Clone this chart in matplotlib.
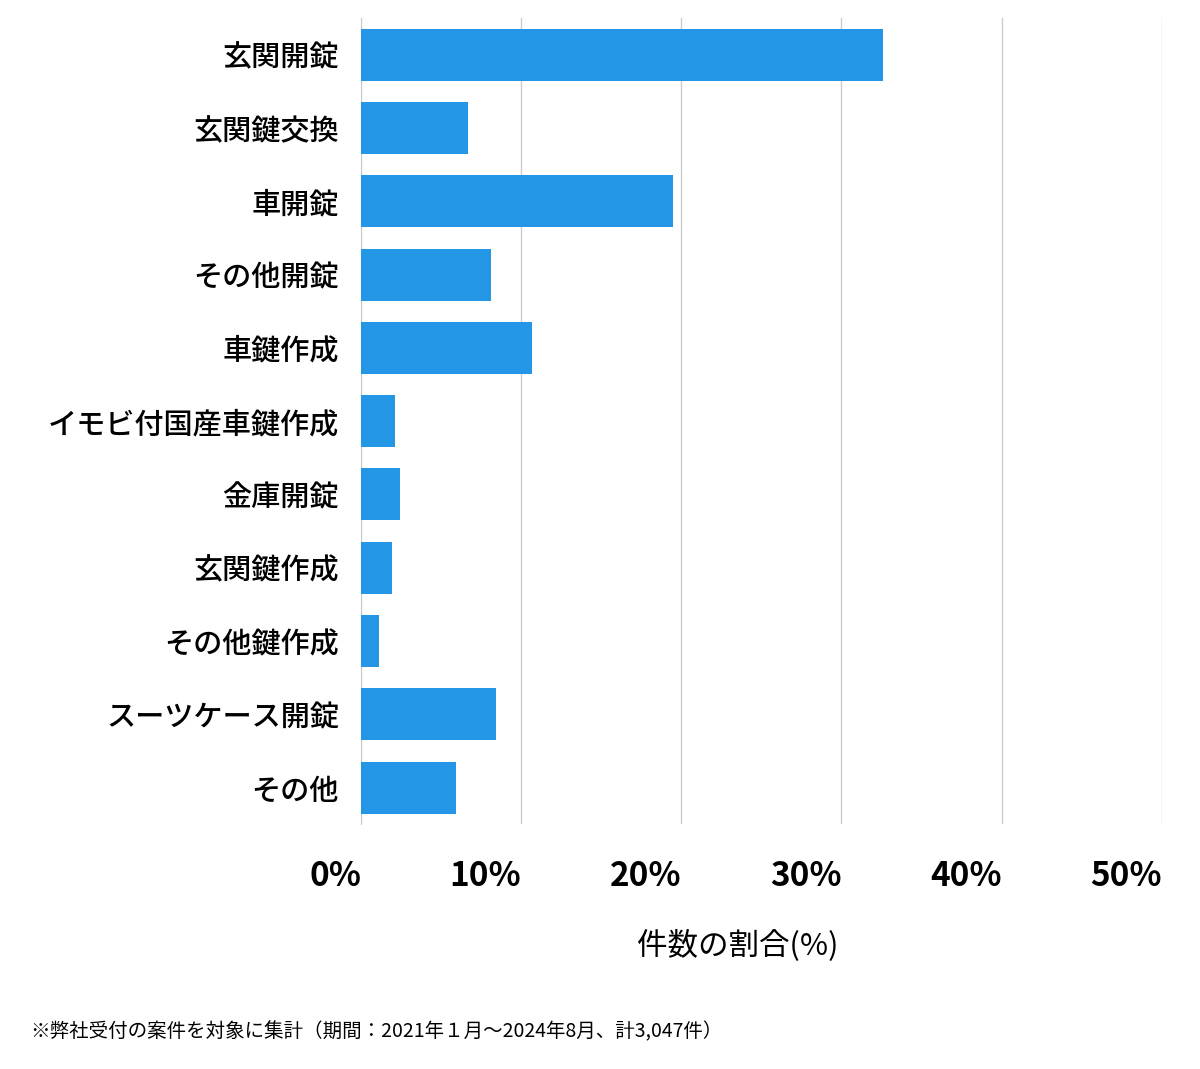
import matplotlib
matplotlib.use("Agg")
import matplotlib.pyplot as plt
from matplotlib.ticker import FuncFormatter

plt.rcParams["font.family"] = "Noto Sans CJK JP"

categories = ["玄関開錠", "玄関鍵交換", "車開錠", "その他開錠", "車鍵作成", "イモビ付国産車鍵作成",
              "金庫開錠", "玄関鍵作成", "その他鍵作成", "スーツケース開錠", "その他"]
values = [32.6, 6.7, 19.5, 8.1, 10.7, 2.1, 2.4, 1.9, 1.1, 8.4, 5.9]
xticks = [0, 10, 20, 30, 40, 50]

fig = plt.figure(figsize=(12, 10.69), dpi=100)
ax = fig.add_axes([0.301, 0.229, 0.667, 0.754])
y = list(range(len(categories)))
ax.barh(y, values, height=0.71, color="#2496E6", zorder=3)
ax.set_ylim(len(categories) - 0.5, -0.5)
ax.set_xlim(0, 50)
ax.set_yticks(y)
ax.set_yticklabels(categories, fontsize=21, fontweight="medium")
ax.set_xticks(xticks)
ax.xaxis.set_major_formatter(FuncFormatter(lambda v, p: f"{int(v)}%"))
for lab in ax.get_xticklabels():
    lab.set_fontsize(24)
    lab.set_fontweight("bold")
    lab.set_horizontalalignment("right")
ax.tick_params(axis="both", length=0)
ax.tick_params(axis="x", pad=26)
ax.tick_params(axis="y", pad=16)
ax.grid(axis="x", color="#cccccc", linewidth=1, zorder=0)
for s in ["top", "right", "bottom"]:
    ax.spines[s].set_visible(False)
ax.spines["left"].set_color("#cccccc")
ax.set_xlabel("件数の割合(%)", fontsize=22, labelpad=26)
ax.xaxis.set_label_coords(0.47, -0.13)
fig.text(0.025, 0.03, "※弊社受付の案件を対象に集計（期間：2021年１月～2024年8月、計3,047件）", fontsize=14)
fig.savefig("out.png", dpi=100, facecolor="white")
